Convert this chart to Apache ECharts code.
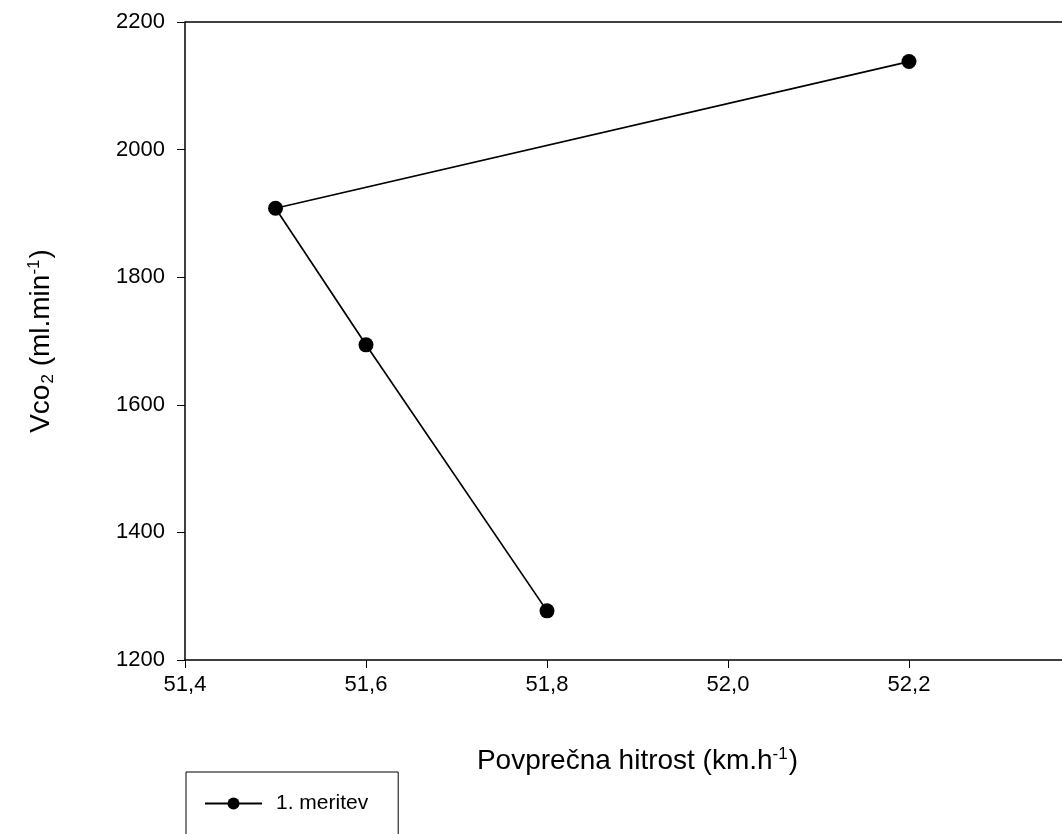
<!DOCTYPE html>
<html>
<head>
<meta charset="utf-8">
<script src="https://cdn.jsdelivr.net/npm/echarts@6/dist/echarts.min.js"></script>
<style>html,body{margin:0;padding:0;background:#fff;overflow:hidden}#c{width:1100px;height:834px}</style>
</head>
<body>
<div id="c"></div>
<script>
const speeds = [52.2, 51.5, 51.6, 51.8];
const vco2 = [2138, 1908, 1694, 1277];
const seriesName = '1. meritev';
const xTicks = [51.4, 51.6, 51.8, 52.0, 52.2, 52.4];
const yTicks = [1200, 1400, 1600, 1800, 2000, 2200];

const chart = echarts.init(document.getElementById('c'), null, { width: 1100, height: 834 });
const font = 'Liberation Sans, Arial, sans-serif';
chart.setOption({
  animation: false,
  backgroundColor: '#fff',
  grid: { left: 185, top: 22, right: 10, bottom: 174, show: false, containLabel: false, outerBoundsMode: 'none' },
  legend: {
    left: 186, top: 772,
    data: [seriesName],
    backgroundColor: '#fff',
    borderColor: '#000', borderWidth: 1, borderRadius: 0,
    padding: [21, 30, 40, 18],
    itemWidth: 57, itemHeight: 15,
    itemGap: 0,
    textStyle: { fontFamily: font, fontSize: 21, color: '#000', padding: [0,0,0,9] }
  },
  xAxis: {
    type: 'value', min: xTicks[0], max: xTicks[xTicks.length-1], interval: 0.2,
    position: 'bottom',
    axisLine: { show: true, onZero: false, lineStyle: { color: '#000', width: 1.5 } },
    axisTick: { show: true, inside: false, length: 8, lineStyle: { color: '#000', width: 1 } },
    splitLine: { show: false },
    axisLabel: { margin: 14, fontFamily: font, fontSize: 22, color: '#000',
      formatter: v => v.toFixed(1).replace('.', ',') },
    name: '{b|Povprečna hitrost (km.h}{s|-1}{b|)}',
    nameLocation: 'middle', nameGap: 86,
    nameTextStyle: { fontFamily: font, fontSize: 28, color: '#000',
      rich: { b: { fontFamily: font, fontSize: 28, color: '#000' },
              s: { fontFamily: font, fontSize: 17, color: '#000', verticalAlign: 'top', padding: [0,1,14,0] } } }
  },
  yAxis: {
    type: 'value', min: yTicks[0], max: yTicks[yTicks.length-1], interval: 200,
    axisLine: { show: true, onZero: false, lineStyle: { color: '#000', width: 1.5 } },
    axisTick: { show: true, inside: false, length: 8, lineStyle: { color: '#000', width: 1 } },
    splitLine: { show: false },
    axisLabel: { margin: 20, fontFamily: font, fontSize: 22, color: '#000', formatter: v => String(v) },
    name: '{b|Vco}{d|2}{b| (ml.min}{s|-1}{b|)}',
    nameLocation: 'middle', nameGap: 128, nameRotate: 90,
    nameTextStyle: { fontFamily: font, fontSize: 28, color: '#000',
      rich: { b: { fontFamily: font, fontSize: 28, color: '#000' },
              s: { fontFamily: font, fontSize: 17, color: '#000', verticalAlign: 'top', padding: [0,1,14,0] },
              d: { fontFamily: font, fontSize: 17, color: '#000', verticalAlign: 'bottom', padding: [12,0,0,1] } } }
  },
  series: [{
    name: seriesName,
    type: 'line',
    data: speeds.map((s, i) => [s, vco2[i]]),
    symbol: 'circle', symbolSize: 15,
    itemStyle: { color: '#000' },
    lineStyle: { color: '#000', width: 1.7 },
    emphasis: { disabled: true }
  }]
});
const tl = chart.convertToPixel({xAxisIndex:0, yAxisIndex:0}, [xTicks[0], yTicks[yTicks.length-1]]);
const tr = chart.convertToPixel({xAxisIndex:0, yAxisIndex:0}, [xTicks[xTicks.length-1], yTicks[yTicks.length-1]]);
chart.setOption({ graphic: [{ type: 'line', shape: { x1: tl[0], y1: tl[1], x2: tr[0], y2: tr[1] }, style: { stroke: '#000', lineWidth: 1.5 } }] });
</script>
</body>
</html>
